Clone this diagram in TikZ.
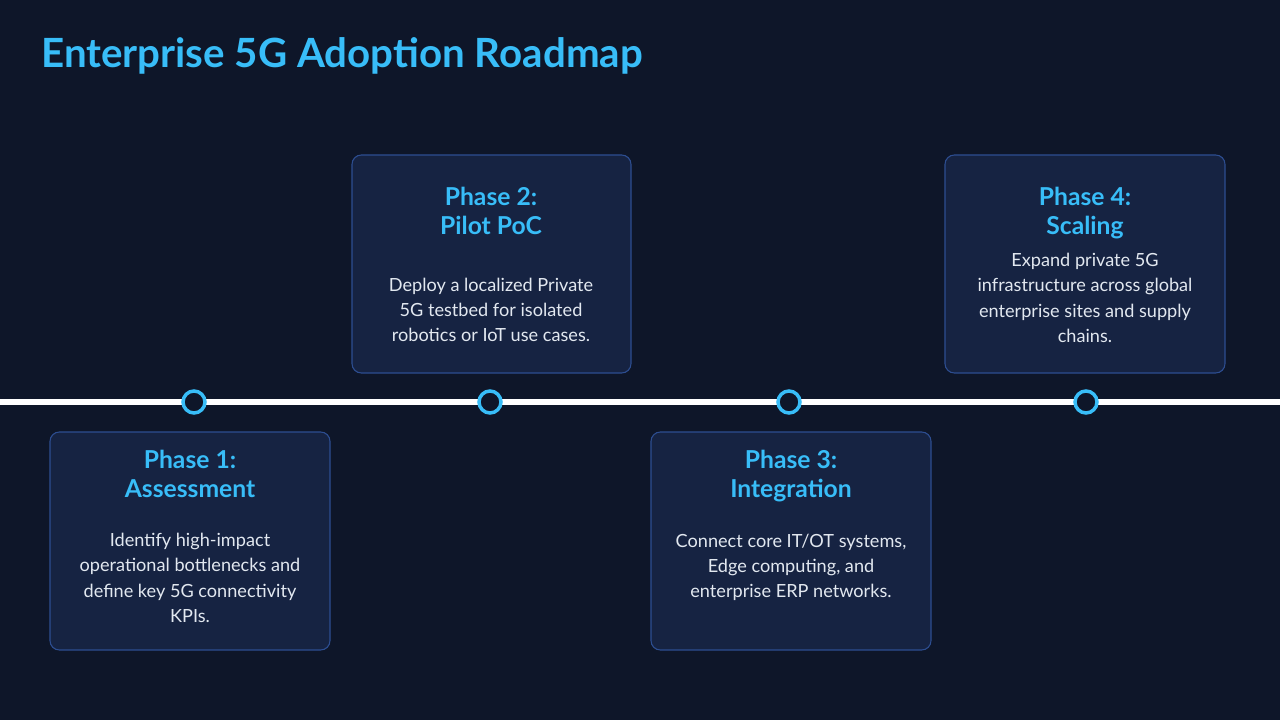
\documentclass[tikz,border=0pt]{standalone}
\usepackage{fontspec}
\setmainfont{Lato}
\definecolor{bg}{RGB}{14,22,41}
\definecolor{sky}{RGB}{56,189,248}
\definecolor{boxfill}{RGB}{22,35,66}
\definecolor{boxline}{RGB}{45,78,145}
\definecolor{bodytxt}{RGB}{226,232,240}
\begin{document}
\begin{tikzpicture}[x=0.75pt,y=-0.75pt,
  card/.style={draw=boxline,line width=0.8pt,fill=boxfill,rounded corners=7pt},
  heading/.style={text=sky,font=\fontsize{18.5}{21.75}\selectfont\bfseries,align=center},
  body/.style={text=bodytxt,font=\fontsize{13.6}{19}\selectfont,align=center},
  dot/.style={circle,draw=sky,line width=2.6pt,fill=bg,minimum size=16.5pt,inner sep=0pt},
  track/.style={draw=white,line width=4.5pt}]
\fill[bg] (0,0) rectangle (1280,720);
\useasboundingbox (0,0) rectangle (1280,720);
\node[anchor=west,text=sky,font=\fontsize{30.2}{34}\selectfont\bfseries,inner sep=0pt] (title) at (41,56) {Enterprise 5G Adoption Roadmap};
% timeline
\coordinate (tl) at (0,402);
\coordinate (tr) at (1280,402);
\draw[track] (tl) -- (tr);
\node[dot] (d1) at (194,402) {};
\node[dot] (d2) at (490,402) {};
\node[dot] (d3) at (789,402) {};
\node[dot] (d4) at (1086,402) {};
% cards
\draw[card] (50,432) rectangle (330,650);
\draw[card] (352,155) rectangle (631,373);
\draw[card] (651,432) rectangle (931,650);
\draw[card] (945,155) rectangle (1225,373);
% texts
\node[heading] (h1) at (190,474) {Phase 1:\\Assessment};
\node[body] (b1) at (190,578) {Identify high-impact\\operational bottlenecks and\\define key 5G connectivity\\KPIs.};
\node[heading] (h2) at (491,210.5) {Phase 2:\\Pilot PoC};
\node[body] (b2) at (491,310) {Deploy a localized Private\\5G testbed for isolated\\robotics or IoT use cases.};
\node[heading] (h3) at (791,476.5) {Phase 3:\\Integration};
\node[body] (b3) at (791,567.5) {Connect core IT/OT systems,\\Edge computing, and\\enterprise ERP networks.};
\node[heading] (h4) at (1085,213.5) {Phase 4:\\Scaling};
\node[body] (b4) at (1085,298) {Expand private 5G\\infrastructure across global\\enterprise sites and supply\\chains.};
\end{tikzpicture}
\end{document}
